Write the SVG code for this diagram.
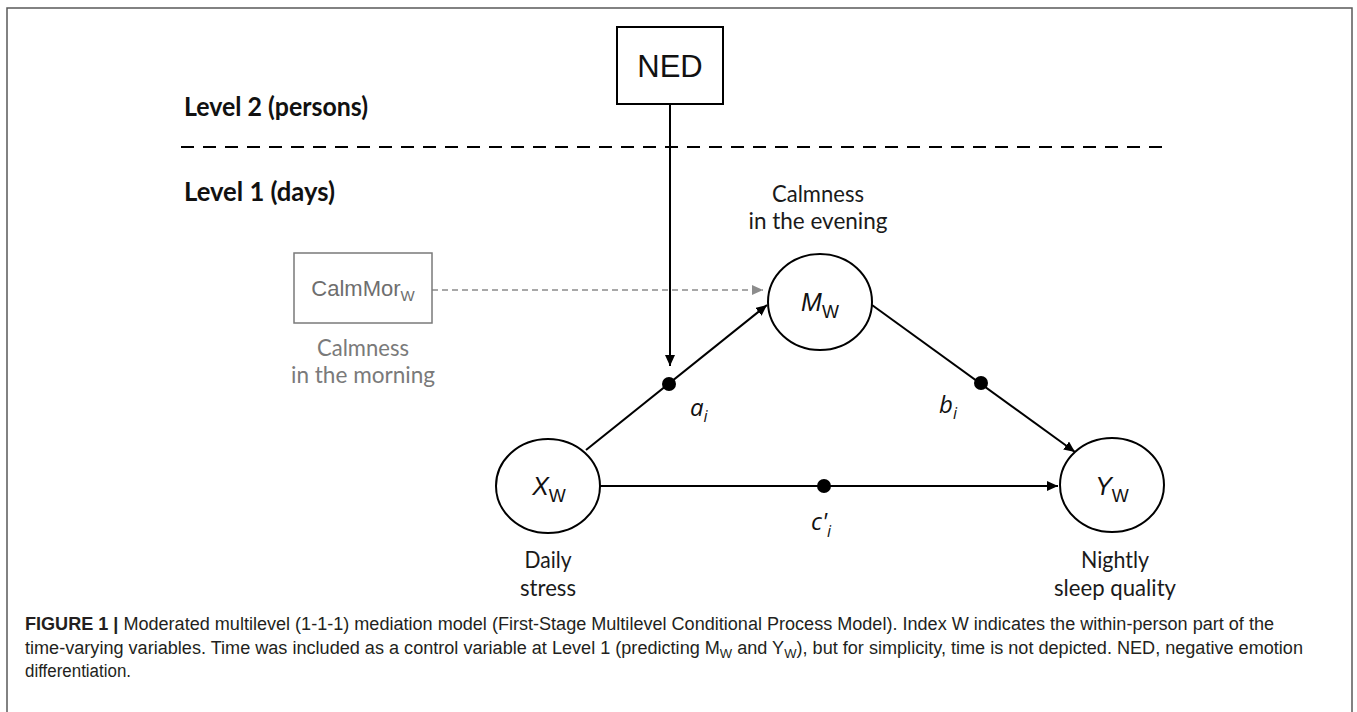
<svg xmlns="http://www.w3.org/2000/svg" width="1357" height="712" viewBox="0 0 1357 712">
<defs>
<marker id="ah" markerUnits="userSpaceOnUse" markerWidth="11" markerHeight="10" refX="11" refY="5" orient="auto"><path d="M0,0 L11,5 L0,10 z" fill="#000"/></marker>
<marker id="ahg" markerUnits="userSpaceOnUse" markerWidth="11" markerHeight="10" refX="11" refY="5" orient="auto"><path d="M0,0 L11,5 L0,10 z" fill="#8c8c8c"/></marker>
<style>
.lvl{font-family:Lato,"Liberation Sans",sans-serif;font-weight:bold;font-size:26px;fill:#111}
.cap{font-family:Lato,"Liberation Sans",sans-serif;font-size:23px;fill:#1a1a1a;text-anchor:middle}
.capg{font-family:Lato,"Liberation Sans",sans-serif;font-size:23px;fill:#7a7a7a;text-anchor:middle}
.var{font-family:"Liberation Sans",Arial,sans-serif;font-size:25px;fill:#111;text-anchor:middle}
.vi{font-style:italic}
.sub{font-size:18px;font-style:normal}
.coef{font-family:"Open Sans","Liberation Sans",sans-serif;font-style:italic;font-size:24px;fill:#111}
.csub{font-size:16px}
.edge{stroke:#000;stroke-width:2;fill:none}
.node{fill:#fff;stroke:#000;stroke-width:2}
.dot{fill:#000}
.fig{font-family:"Liberation Sans",Arial,sans-serif;font-size:18px;fill:#231f20}
</style>
</defs>
<rect width="1357" height="712" fill="#fff"/>
<path d="M7,712 V8 H1352 V712" fill="none" stroke="#5a5a5a" stroke-width="1.5"/>

<g id="levels">
<text class="lvl" x="184" y="116" textLength="184" lengthAdjust="spacingAndGlyphs">Level 2 (persons)</text>
<line x1="181" y1="147" x2="1168" y2="147" stroke="#000" stroke-width="2" stroke-dasharray="13 9"/>
<text class="lvl" x="184" y="201" textLength="151" lengthAdjust="spacingAndGlyphs">Level 1 (days)</text>
</g>

<g id="connectors">
<path class="edge" d="M670,104 V366" marker-end="url(#ah)"/>
<path class="edge" d="M586,450 L767,305" marker-end="url(#ah)"/>
<path class="edge" d="M872,305 L1075,452" marker-end="url(#ah)"/>
<path class="edge" d="M600,486 L1058,486" marker-end="url(#ah)"/>
<path d="M432,290 L763,290" fill="none" stroke="#8c8c8c" stroke-width="1.5" stroke-dasharray="6 4" marker-end="url(#ahg)"/>
<circle class="dot" cx="669" cy="384" r="7"/>
<circle class="dot" cx="981" cy="383" r="7"/>
<circle class="dot" cx="824" cy="486" r="7"/>
<text class="coef" x="690" y="416">a<tspan class="csub" dy="6">i</tspan></text>
<text class="coef" x="939" y="413">b<tspan class="csub" dy="6">i</tspan></text>
<text class="coef" x="811" y="530">c'<tspan class="csub" dy="7">i</tspan></text>
</g>

<g id="node-ned">
<rect x="617" y="27" width="106" height="77" fill="#fff" stroke="#000" stroke-width="2"/>
<text x="670" y="77" font-family="'Liberation Sans',Arial,sans-serif" font-size="31" fill="#111" text-anchor="middle">NED</text>
</g>

<g id="node-calmmor">
<rect x="294" y="253" width="138" height="70" fill="#fff" stroke="#7a7a7a" stroke-width="1.5"/>
<text x="363" y="296" font-family="'Liberation Sans',Arial,sans-serif" font-size="22" fill="#6e6e6e" text-anchor="middle">CalmMor<tspan font-size="15" dy="5">W</tspan></text>
<text class="capg" x="363" y="356" textLength="92" lengthAdjust="spacingAndGlyphs">Calmness</text>
<text class="capg" x="363" y="383" textLength="144" lengthAdjust="spacingAndGlyphs">in the morning</text>
</g>

<g id="node-m">
<text class="cap" x="818" y="202" textLength="92" lengthAdjust="spacingAndGlyphs">Calmness</text>
<text class="cap" x="818" y="229" textLength="139" lengthAdjust="spacingAndGlyphs">in the evening</text>
<ellipse class="node" cx="820" cy="302" rx="52" ry="48"/>
<text class="var" x="820" y="311"><tspan class="vi">M</tspan><tspan class="sub" dy="7">W</tspan></text>
</g>

<g id="node-x">
<ellipse class="node" cx="548" cy="486" rx="52" ry="47"/>
<text class="var" x="549" y="495"><tspan class="vi">X</tspan><tspan class="sub" dy="7">W</tspan></text>
<text class="cap" x="548" y="568" textLength="47" lengthAdjust="spacingAndGlyphs">Daily</text>
<text class="cap" x="548" y="596" textLength="56" lengthAdjust="spacingAndGlyphs">stress</text>
</g>

<g id="node-y">
<ellipse class="node" cx="1112" cy="485" rx="52" ry="47"/>
<text class="var" x="1112" y="495"><tspan class="vi">Y</tspan><tspan class="sub" dy="7">W</tspan></text>
<text class="cap" x="1115" y="568" textLength="68" lengthAdjust="spacingAndGlyphs">Nightly</text>
<text class="cap" x="1115" y="596" textLength="122" lengthAdjust="spacingAndGlyphs">sleep quality</text>
</g>

<g id="caption">
<text class="fig" x="25" y="630" textLength="1249" lengthAdjust="spacingAndGlyphs"><tspan font-weight="bold">FIGURE 1 |</tspan> Moderated multilevel (1-1-1) mediation model (First-Stage Multilevel Conditional Process Model). Index W indicates the within-person part of the</text>
<text class="fig" x="25" y="654" textLength="1278" lengthAdjust="spacingAndGlyphs">time-varying variables. Time was included as a control variable at Level 1 (predicting M<tspan font-size="13" dy="4">W</tspan><tspan dy="-4"> and Y</tspan><tspan font-size="13" dy="4">W</tspan><tspan dy="-4">), but for simplicity, time is not depicted. NED, negative emotion</tspan></text>
<text class="fig" x="25" y="677" textLength="106" lengthAdjust="spacingAndGlyphs">differentiation.</text>
</g>
</svg>
